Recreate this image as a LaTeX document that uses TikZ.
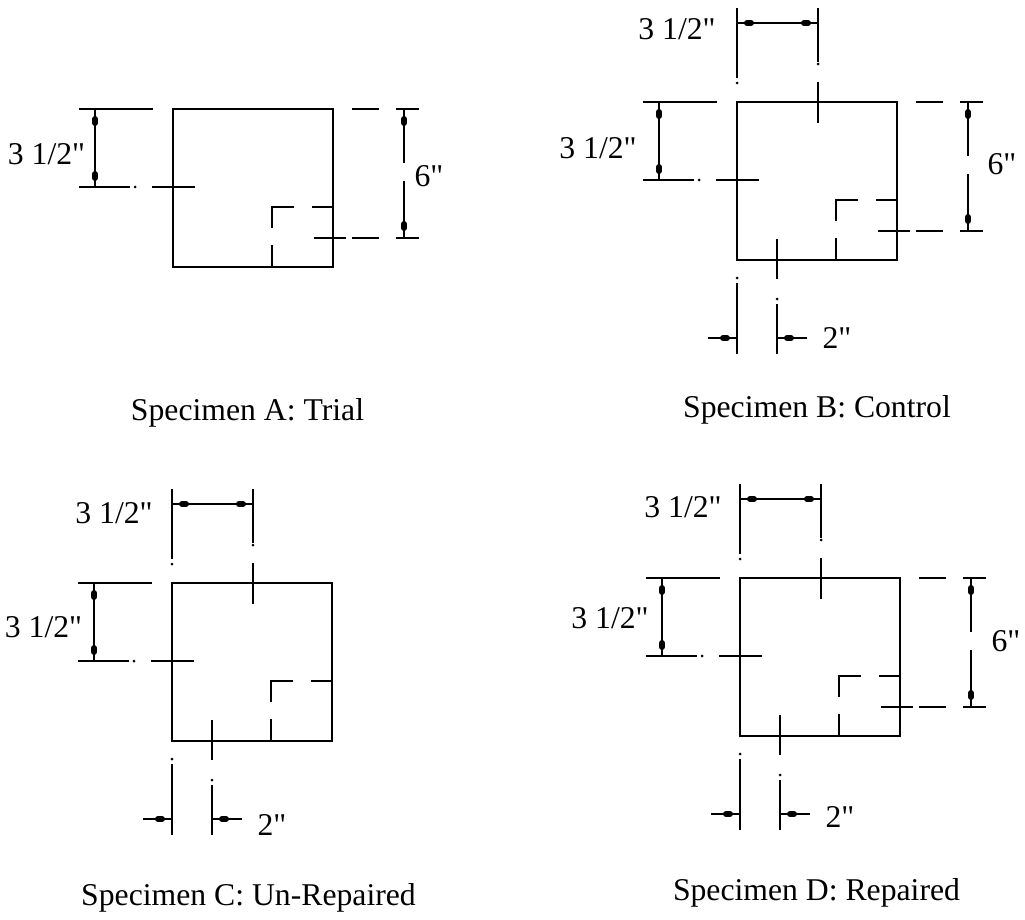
\documentclass[tikz,border=0pt]{standalone}
\usepackage{fontspec}
\setmainfont[Ligatures=TeXOff]{Liberation Serif}

\tikzset{
  line/.style={line width=2.4pt},
  outline/.style={line width=2.8pt},
  blob/.style={line width=6pt,line cap=round},
  dot/.style={fill=black},
  label/.style={anchor=base,inner sep=0pt,font=\fontsize{31.7}{34}\selectfont},
}

\begin{document}
\begin{tikzpicture}[x=1pt,y=-1pt]
  \useasboundingbox (0,0) rectangle (1025,920);

  % square, notch and left dimension, on all four
  \foreach \bx/\by in {173/109,737/102,172/583,740/578}
  {
    \begin{scope}[shift={(\bx,\by)}]
      \draw[outline] (0,0) rectangle (160,158);
      \draw[line] (121,98) -- (99,98) -- (99,119);
      \draw[line] (139,98) -- (160,98);
      \draw[line] (99,136) -- (99,158);
      \draw[line] (-94,0) -- (-20,0);
      \draw[line] (-94,78) -- (-43,78);
      \fill[dot] (-38,78) circle (1.5);
      \draw[line] (-21,78) -- (22,78);
      \draw[line] (-78,0) -- (-78,78);
      \draw[blob] (-78,10) -- (-78,14);
      \draw[blob] (-78,65) -- (-78,69);
    \end{scope}
  }

  % right dimension
  \foreach \bx/\by in {173/109,737/102,740/578}
  {
    \begin{scope}[shift={(\bx,\by)}]
      \draw[line] (179,0) -- (206,0);
      \draw[line] (223,0) -- (246,0);
      \draw[line] (231,0) -- (231,54);
      \draw[line] (231,72) -- (231,129);
      \draw[blob] (231,10) -- (231,14);
      \draw[blob] (231,115) -- (231,119);
      \draw[line] (141,129) -- (173,129);
      \draw[line] (179,129) -- (206,129);
      \draw[line] (223,129) -- (246,129);
    \end{scope}
  }

  % top dimension
  \foreach \bx/\by in {737/102,172/583,740/578}
  {
    \begin{scope}[shift={(\bx,\by)}]
      \draw[line] (0,-94) -- (0,-24);
      \fill[dot] (0,-19) circle (1.5);
      \draw[line] (81,-94) -- (81,-40);
      \fill[dot] (81,-38) circle (1.5);
      \draw[line] (81,-20) -- (81,21);
      \draw[line] (0,-79) -- (81,-79);
      \draw[blob] (10,-79) -- (14,-79);
      \draw[blob] (67,-79) -- (71,-79);
    \end{scope}
  }

  % bottom dimension
  \foreach \bx/\by in {737/102,172/583,740/578}
  {
    \begin{scope}[shift={(\bx,\by)}]
      \draw[line] (40,137) -- (40,177);
      \fill[dot] (0,176) circle (1.5);
      \draw[line] (0,181) -- (0,252);
      \fill[dot] (40,197) circle (1.5);
      \draw[line] (40,202) -- (40,252);
      \draw[line] (-29,236) -- (0,236);
      \draw[blob] (-14,236) -- (-10,236);
      \draw[line] (40,236) -- (70,236);
      \draw[blob] (50,236) -- (54,236);
    \end{scope}
  }

  % dimensions text
  \node[label] (a1) at (46.5,165) {3 1/2"};
  \node[label] (a2) at (429,187) {6"};
  \node[label] (b1) at (677,40) {3 1/2"};
  \node[label] (b2) at (598,159) {3 1/2"};
  \node[label] (b3) at (1002,175) {6"};
  \node[label] (b4) at (837,348) {2"};
  \node[label] (c1) at (114,523) {3 1/2"};
  \node[label] (c2) at (43.5,637) {3 1/2"};
  \node[label] (c3) at (272,835) {2"};
  \node[label] (d1) at (683,517) {3 1/2"};
  \node[label] (d2) at (610,628) {3 1/2"};
  \node[label] (d3) at (1006,651) {6"};
  \node[label] (d4) at (840,827) {2"};

  % captions
  \node[label] (capa) at (247.5,420) {Specimen A: Trial};
  \node[label] (capb) at (817,417) {Specimen B: Control};
  \node[label] (capc) at (248.5,905) {Specimen C: Un-Repaired};
  \node[label] (capd) at (816.5,900) {Specimen D: Repaired};

\end{tikzpicture}
\end{document}
